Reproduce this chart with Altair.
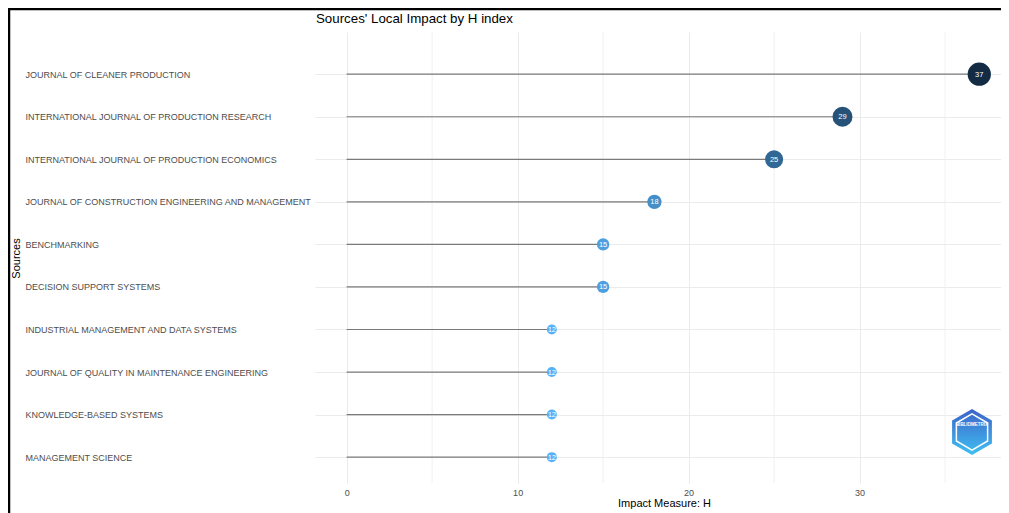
import altair as alt
import pandas as pd

sources = [
    "JOURNAL OF CLEANER PRODUCTION",
    "INTERNATIONAL JOURNAL OF PRODUCTION RESEARCH",
    "INTERNATIONAL JOURNAL OF PRODUCTION ECONOMICS",
    "JOURNAL OF CONSTRUCTION ENGINEERING AND MANAGEMENT",
    "BENCHMARKING",
    "DECISION SUPPORT SYSTEMS",
    "INDUSTRIAL MANAGEMENT AND DATA SYSTEMS",
    "JOURNAL OF QUALITY IN MAINTENANCE ENGINEERING",
    "KNOWLEDGE-BASED SYSTEMS",
    "MANAGEMENT SCIENCE",
]
h_index = [37, 29, 25, 18, 15, 15, 12, 12, 12, 12]
major_ticks = [0, 10, 20, 30]
minor_ticks = [5, 15, 25, 35]
chart_title = "Sources' Local Impact by H index"

FONT = "Liberation Sans"
W, H = 686, 451

df = pd.DataFrame({"Source": sources, "H": h_index})
minor_df = pd.DataFrame({"m": minor_ticks})

xscale = alt.Scale(domain=[-1.85, 38.27], nice=False, zero=False)
xaxis = alt.Axis(
    values=major_ticks, grid=True, gridColor="#EBEBEB", gridWidth=1,
    ticks=False, domain=False, labelFontSize=9, labelColor="#4D4D4D",
    labelFont=FONT, labelPadding=5, labelBaseline="top",
    titleFont=FONT, titleFontSize=11, titleFontWeight="normal", titleColor="black",
    titleX=349, titleY=23, titleBaseline="alphabetic", titleAlign="center",
)
XT = "Impact Measure: H"

yenc = alt.Y(
    "Source:N", sort=sources,
    scale=alt.Scale(type="point", padding=0.8, align=0.62),
    axis=alt.Axis(
        grid=True, gridColor="#EBEBEB", gridWidth=1, ticks=False, domain=False,
        labelAlign="left", labelPadding=290, labelLimit=400, labelFontSize=9,
        labelColor="#4D4D4D", labelFont=FONT, labelBaseline="middle",
        titleFont=FONT, titleFontSize=11, titleFontWeight="normal", titleColor="black",
        titleAngle=-90, titleX=-299, titleY=226, titleAlign="center", titleBaseline="middle",
    ),
    title="Sources",
)

base = alt.Chart(df)

minor = alt.Chart(minor_df).mark_rule(color="#EDEDED", strokeWidth=0.8).encode(
    x=alt.X("m:Q", scale=xscale, axis=xaxis, title=XT)
)

segs = base.transform_calculate(zero="0").mark_rule(color="#7a7a7a", strokeWidth=1.2).encode(
    x=alt.X("zero:Q", scale=xscale, axis=xaxis, title=XT),
    x2="H:Q",
    y=yenc,
)

dots = base.mark_circle(opacity=1).encode(
    x=alt.X("H:Q", scale=xscale, axis=xaxis, title=XT),
    y=yenc,
    size=alt.Size("H:Q", scale=alt.Scale(domain=[12, 37], range=[100, 540]), legend=None),
    color=alt.Color("H:Q", scale=alt.Scale(domain=[12, 37], range=["#56B1F7", "#132B43"], interpolate="lab"), legend=None),
)

labels = base.mark_text(color="white", fontSize=7.5, font=FONT, align="center", baseline="middle", dy=0.5).encode(
    x=alt.X("H:Q", scale=xscale, axis=xaxis, title=XT),
    y=yenc,
    text="H:Q",
)

hexpath = "M0,-1L0.866,-0.5L0.866,0.5L0,1L-0.866,0.5L-0.866,-0.5Z"
one = alt.Data(values=[{"t": "BIBLIOMETRIX", "title": chart_title}])
grad = alt.LinearGradient(
    gradient="linear", x1=0, x2=0, y1=0, y2=1,
    stops=[alt.GradientStop(color="#3D63C9", offset=0), alt.GradientStop(color="#3FC0F2", offset=1)],
)
logo_outer = alt.Chart(one).mark_point(shape=hexpath, size=2116, filled=True, fill=grad, opacity=1, strokeWidth=0).encode(
    x=alt.value(657), y=alt.value(400)
)
logo_inner = alt.Chart(one).mark_point(shape=hexpath, size=1300, filled=False, stroke="white", strokeWidth=1.5, opacity=1).encode(
    x=alt.value(657), y=alt.value(400)
)
logo_text = alt.Chart(one).mark_text(color="white", fontSize=4.5, fontWeight="bold", font=FONT).encode(
    x=alt.value(657), y=alt.value(393), text="t:N"
)

title_mark = alt.Chart(one).mark_text(
    color="black", fontSize=13.3, font=FONT, align="left", baseline="alphabetic"
).encode(x=alt.value(1), y=alt.value(-9), text="title:N")

frame = alt.Chart(one).mark_rect(fill="transparent", stroke="black", strokeWidth=2.5).encode(
    x=alt.value(-306), x2=alt.value(W + 30), y=alt.value(-23), y2=alt.value(H + 60)
)

chart = alt.layer(
    minor, segs, dots, labels, logo_outer, logo_inner, logo_text, title_mark, frame
).properties(
    width=W, height=H,
    background="white",
    autosize=alt.AutoSizeParams(type="none"),
    padding={"left": 307, "top": 24, "right": 0, "bottom": 30},
).configure_view(strokeWidth=0, stroke="transparent")

chart.save("out.html", embed_options={"renderer": "svg", "actions": False})
